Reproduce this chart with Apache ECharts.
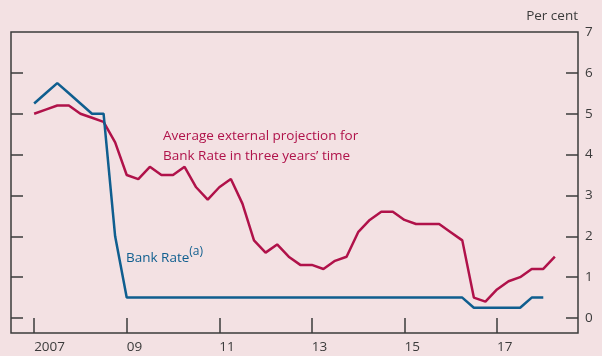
<!DOCTYPE html>
<html>
<head>
<meta charset="utf-8">
<script src="https://cdn.jsdelivr.net/npm/echarts@6/dist/echarts.min.js"></script>
<style>
html,body{margin:0;padding:0;background:#F3E1E3;}
#c{width:602px;height:356px;}
</style>
</head>
<body>
<div id="c"></div>
<script>
// Quarterly data starting 2007 Q1
var startYear = 2007;
var bankRate = [5.25,5.5,5.75,5.5,5.25,5.0,5.0,2.0,0.5,
  0.5,0.5,0.5,0.5,0.5,0.5,0.5,0.5,0.5,0.5,0.5,0.5,0.5,0.5,0.5,0.5,0.5,0.5,0.5,0.5,0.5,0.5,0.5,0.5,0.5,0.5,0.5,0.5,0.5,
  0.25,0.25,0.25,0.25,0.25,0.5,0.5];
var projection = [5.0,5.1,5.2,5.2,5.0,4.9,4.8,4.3,3.5,3.4,3.7,3.5,3.5,3.7,3.2,2.9,3.2,3.4,2.8,1.9,
  1.6,1.8,1.5,1.3,1.3,1.2,1.4,1.5,2.1,2.4,2.6,2.6,2.4,2.3,2.3,2.3,2.1,1.9,0.5,0.4,0.7,0.9,1.0,1.2,1.2,1.5];
var xTickYears = [2007,2009,2011,2013,2015,2017];
var yTicks = [0,1,2,3,4,5,6,7];

function toXY(arr){ return arr.map(function(v,i){ return [startYear + i/4, v]; }); }

var font = '"Open Sans", "Noto Sans", sans-serif';
var axisCol = '#3b3b3b';
var textCol = '#3b3b3b';
var redCol = '#B0124A';
var blueCol = '#0F5E8F';

var chart = echarts.init(document.getElementById('c'), null, {renderer:'canvas'});
chart.setOption({
  backgroundColor: '#F3E1E3',
  animation: false,
  grid: {left: 11, right: 24, top: 32, bottom: 23, show: true, borderColor: axisCol, borderWidth: 1.5, backgroundColor: 'transparent'},
  xAxis: {
    type: 'value', min: 2006.5, max: 2018.75,
    axisLine: {show: false, onZero: false},
    splitLine: {show: false},
    axisTick: {show: true, inside: true, length: 15, lineStyle: {color: axisCol, width: 1.5}, customValues: xTickYears},
    axisLabel: {show: true, color: textCol, fontFamily: font, fontSize: 13.5, margin: 7, align: 'left',
      customValues: xTickYears,
      formatter: function(v){ return v === 2007 ? '2007' : String(v).slice(2); }}
  },
  yAxis: [
    {type: 'value', position: 'left', min: -0.367, max: 7,
     axisLine: {show: false}, splitLine: {show: false},
     axisTick: {show: true, inside: true, length: 12, lineStyle: {color: axisCol, width: 1.5}, customValues: yTicks.slice(0,7)},
     axisLabel: {show: false}},
    {type: 'value', position: 'right', min: -0.367, max: 7,
     axisLine: {show: false}, splitLine: {show: false},
     axisTick: {show: true, inside: true, length: 12, lineStyle: {color: axisCol, width: 1.5}, customValues: yTicks.slice(0,7)},
     axisLabel: {show: true, color: textCol, fontFamily: font, fontSize: 13.5, margin: 7, customValues: yTicks}}
  ],
  graphic: [
    {type: 'text', right: 24, top: 9, style: {text: 'Per cent', fill: textCol, font: '13.5px ' + font, textAlign: 'right'}},
    {type: 'text', left: 163, top: 126, style: {text: 'Average external projection for\nBank Rate in three years\u2019 time', fill: redCol, font: '13.5px ' + font, lineHeight: 20}},
    {type: 'text', left: 126, top: 246, style: {text: '{a|Bank Rate}{s|(a)}', fill: blueCol,
      rich: {a: {fontSize: 13.5, fontFamily: font, fill: blueCol, verticalAlign: 'bottom'},
             s: {fontSize: 12, fontFamily: font, fill: blueCol, verticalAlign: 'bottom', padding: [0,0,7,0]}}}}
  ],
  series: [
    {type: 'line', name: 'Average external projection', data: toXY(projection), yAxisIndex: 0,
     showSymbol: false, lineStyle: {color: redCol, width: 2.5}, z: 3},
    {type: 'line', name: 'Bank Rate', data: toXY(bankRate), yAxisIndex: 0,
     showSymbol: false, lineStyle: {color: blueCol, width: 2.5}, z: 4}
  ]
});
</script>
</body>
</html>
